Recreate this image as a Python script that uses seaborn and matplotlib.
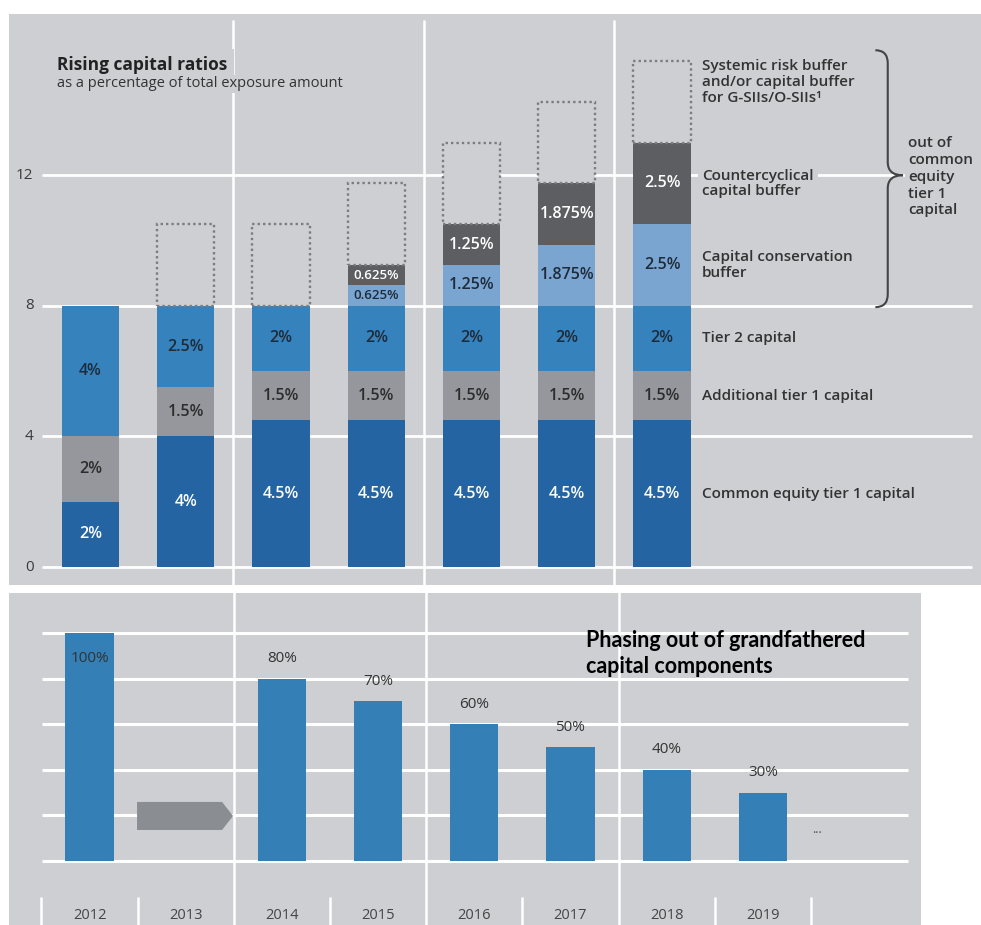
import numpy as np
import pandas as pd
import matplotlib
matplotlib.use("Agg")
import matplotlib.pyplot as plt
import matplotlib.patches as mpatches
from matplotlib.path import Path
import seaborn as sns

# ---------------- data ----------------
years_top = ["2012", "2013", "2014", "2015", "2016", "2017", "2018"]
cet1 = [2, 4, 4.5, 4.5, 4.5, 4.5, 4.5]
at1 = [2, 1.5, 1.5, 1.5, 1.5, 1.5, 1.5]
tier2 = [4, 2.5, 2, 2, 2, 2, 2]
conservation = [0, 0, 0, 0.625, 1.25, 1.875, 2.5]
countercyclical = [0, 0, 0, 0.625, 1.25, 1.875, 2.5]
systemic = [0, 2.5, 2.5, 2.5, 2.5, 2.5, 2.5]
layer_names = ["Common equity tier 1 capital", "Additional tier 1 capital",
               "Tier 2 capital", "Capital conservation\nbuffer",
               "Countercyclical\ncapital buffer"]
systemic_name = "Systemic risk buffer\nand/or capital buffer\nfor G-SIIs/O-SIIs\u00b9"
brace_text = "out of\ncommon\nequity\ntier 1\ncapital"
top_yticks = [0, 4, 8, 12]

years_bottom = ["2012", "2013", "2014", "2015", "2016", "2017", "2018", "2019"]
phase_years = ["2012", "2014", "2015", "2016", "2017", "2018", "2019"]
phase_values = [100, 80, 70, 60, 50, 40, 30]
phase_grid = [0, 20, 40, 60, 80, 100]

# ---------------- style ----------------
BG = "#cecfd3"
C_CET1 = "#2464a3"
C_AT1 = "#96979c"
C_T2 = "#3582bd"
C_CCB = "#7aa5d0"
C_CCYB = "#5d5e62"
C_PHASE = "#347fb5"
C_ARROW = "#8a8d92"
DARK = "#2c2c2c"
layer_colors = [C_CET1, C_AT1, C_T2, C_CCB, C_CCYB]
label_colors = ["white", DARK, "#1e2b3a", "#1e2b3a", "white"]

sns.set_style("white")
plt.rcParams["font.family"] = ["Open Sans", "DejaVu Sans"]

fig = plt.figure(figsize=(9.81, 9.25), dpi=100)
ax1 = fig.add_axes([9 / 981, 1 - 585 / 925, 972 / 981, 571 / 925])
ax2 = fig.add_axes([9 / 981, 0, 912 / 981, 332 / 925])
for ax in (ax1, ax2):
    ax.set_facecolor(BG)
    for s in ax.spines.values():
        s.set_visible(False)

# ---------------- top chart ----------------
layers = [cet1, at1, tier2, conservation, countercyclical]
cum = np.cumsum(np.array(layers, dtype=float), axis=0)
for k in reversed(range(len(layers))):
    df = pd.DataFrame({"year": years_top, "value": cum[k]})
    sns.barplot(data=df, x="year", y="value", order=years_top,
                color=layer_colors[k], saturation=1, width=0.6,
                errorbar=None, ax=ax1, zorder=3, linewidth=0)

# dotted systemic buffer boxes
idx = [i for i, v in enumerate(systemic) if v > 0]
ax1.bar(idx, [systemic[i] for i in idx], bottom=[cum[-1][i] for i in idx],
        width=0.6, facecolor=BG, edgecolor="#7b7c80",
        linestyle=(0, (1, 1.3)), linewidth=1.7, zorder=3)

# segment labels
for k, vals in enumerate(layers):
    for i, v in enumerate(vals):
        if v <= 0:
            continue
        bottom = cum[k][i] - v
        fs = 9.5 if v < 1 else 11.5
        ax1.text(i, bottom + v / 2, f"{v:g}%", ha="center", va="center",
                 color=label_colors[k], fontsize=fs, fontweight="semibold",
                 zorder=5)

ax1.hlines(top_yticks, -0.51, 9.25, colors="white", lw=2.0, zorder=1)
ax1.vlines([1.5, 3.5, 5.5], -1, 16.75, colors="white", lw=1.8, zorder=1)
for t in top_yticks:
    ax1.text(-0.6, t, str(t), ha="right", va="center", fontsize=11,
             color="#3a3a3a")

ax1.set_xlim(-0.856, 9.349)
ax1.set_ylim(-0.551, 16.94)
ax1.set_xticks([])
ax1.set_yticks([])
ax1.set_xlabel("")
ax1.set_ylabel("")

ax1.text(0.049, 0.911, "Rising capital ratios", transform=ax1.transAxes,
         ha="left", va="center", fontsize=12.5, fontweight="bold",
         color="#222222", zorder=6,
         bbox=dict(facecolor=BG, edgecolor="none", pad=5))
ax1.text(0.049, 0.878, "as a percentage of total exposure amount",
         transform=ax1.transAxes, ha="left", va="center", fontsize=10.5,
         color="#333333", zorder=6,
         bbox=dict(facecolor=BG, edgecolor="none", pad=1))

# right-hand legend labels (positioned at segment centres of last bar)
last = len(years_top) - 1
lx = 6.42
for k, name in enumerate(layer_names):
    v = layers[k][last]
    yc = cum[k][last] - v / 2
    ax1.text(lx, yc, name, ha="left", va="center", fontsize=11,
             fontweight="semibold", color="#333333", linespacing=1.15,
             zorder=6, bbox=dict(facecolor=BG, edgecolor="none", pad=3))
ax1.text(lx, 14.85, systemic_name, ha="left", va="center", fontsize=11,
         fontweight="semibold", color="#333333", linespacing=1.2, zorder=6,
         bbox=dict(facecolor=BG, edgecolor="none", pad=3))

# curly brace
x0, xm, xt = 8.24, 8.37, 8.53
yt, yb, ym = 15.83, 7.96, 12.0
d = 0.4
verts = [(x0, yt), (xm, yt), (xm, yt - d),
         (xm, ym + d),
         (xm, ym), (xt, ym),
         (xm, ym), (xm, ym - d),
         (xm, yb + d),
         (xm, yb), (x0, yb)]
codes = [Path.MOVETO, Path.CURVE3, Path.CURVE3,
         Path.LINETO,
         Path.CURVE3, Path.CURVE3,
         Path.CURVE3, Path.CURVE3,
         Path.LINETO,
         Path.CURVE3, Path.CURVE3]
ax1.add_patch(mpatches.PathPatch(Path(verts, codes), facecolor="none",
                                 edgecolor="#444444", lw=1.5, zorder=6))
ax1.text(8.58, 11.95, brace_text, ha="left", va="center", fontsize=11,
         fontweight="semibold", color="#333333", linespacing=1.25, zorder=6,
         bbox=dict(facecolor=BG, edgecolor="none", pad=2))

# ---------------- bottom chart ----------------
df2 = pd.DataFrame({"year": phase_years, "value": phase_values})
sns.barplot(data=df2, x="year", y="value", order=years_bottom,
            color=C_PHASE, saturation=1, width=0.5, errorbar=None,
            ax=ax2, zorder=3, linewidth=0)

pos = {y: i for i, y in enumerate(years_bottom)}
for yr, v in zip(phase_years, phase_values):
    ly = v - 11.4 if v >= 100 else v + 8.7
    ax2.text(pos[yr], ly, f"{v}%", ha="center", va="center", fontsize=11,
             color="#333333", zorder=5)

ax2.hlines(phase_grid, -0.494, 8.51, colors="white", lw=2.2, zorder=1)
ax2.vlines([1.5, 3.5, 5.5], -40, 130, colors="white", lw=1.8, zorder=1)
ax2.vlines([-0.5, 0.5, 2.5, 4.5, 6.5, 7.5], -40, -15.8, colors="white",
           lw=1.8, zorder=1)
for yr in years_bottom:
    ax2.text(pos[yr], -23.7, yr, ha="center", va="center", fontsize=10.5,
             color="#444444")

# grey arrow in 2013 slot
arrow = mpatches.Polygon([(0.494, 13.6), (1.378, 13.6), (1.492, 19.75),
                          (1.378, 25.9), (0.494, 25.9)], closed=True,
                         facecolor=C_ARROW, edgecolor="none", zorder=3)
ax2.add_patch(arrow)
ax2.text(7.56, 14, "...", ha="center", va="center", fontsize=9,
         color="#555555")

ax2.text(0.633, 0.818, "Phasing out of grandfathered\ncapital components",
         transform=ax2.transAxes, ha="left", va="center", fontsize=15.5,
         fontweight="bold", family=["Lato", "DejaVu Sans"], color="black",
         linespacing=1.3, zorder=6)

ax2.set_xlim(-0.837, 8.644)
ax2.set_ylim(-28.07, 117.54)
ax2.set_xticks([])
ax2.set_yticks([])
ax2.set_xlabel("")
ax2.set_ylabel("")

fig.savefig("out.png", dpi=100, facecolor="white")
